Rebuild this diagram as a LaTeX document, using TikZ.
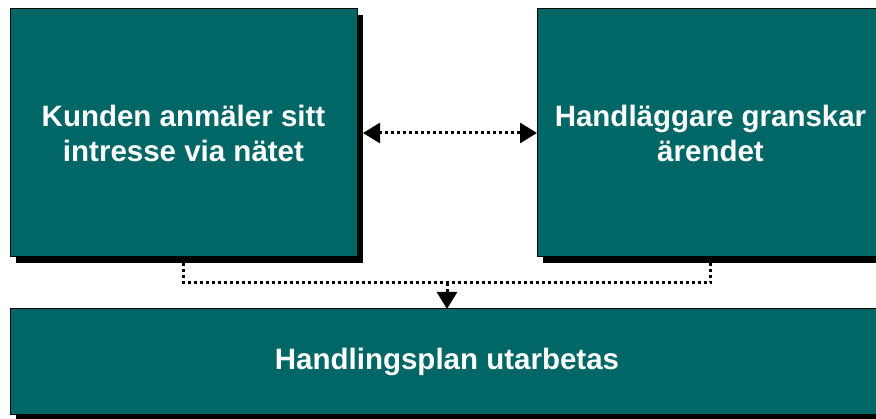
\documentclass[tikz,border=0pt]{standalone}
\usepackage{fontspec}
\setmainfont{Liberation Sans}
\usetikzlibrary{arrows.meta,shadows}
\definecolor{boxteal}{HTML}{006666}
\begin{document}
\begin{tikzpicture}[x=1pt,y=-1pt,
  stepbox/.style={draw=black, line width=1pt, fill=boxteal, text=white,
    font=\bfseries\fontsize{29.5}{35}\selectfont, align=center,
    inner sep=0pt, outer sep=0pt,
    drop shadow={shadow xshift=6pt, shadow yshift=-6pt, fill=black, opacity=1}},
  dotline/.style={line width=3pt, dash pattern=on 3pt off 3pt, black},
  tri/.tip={Triangle[length=17pt,width=20pt]}]
  \useasboundingbox (0,0) rectangle (876,419);
  \clip (0,0) rectangle (876,419);
  % the three process boxes
  \node[stepbox, minimum width=347pt, minimum height=248pt] (L) at (183.5,133)
    {Kunden anmäler sitt\\intresse via nätet};
  \node[stepbox, minimum width=347pt, minimum height=248pt] (R) at (710.5,133)
    {Handläggare granskar\\ärendet};
  \node[stepbox, minimum width=874pt, minimum height=106pt] (B) at (447,362)
    {Handlingsplan utarbetas};
  % two-way link between the upper boxes
  \draw[dotline, tri-tri] ([xshift=6pt]L.east) -- (R.west);
  % both upper boxes feed the plan
  \draw[dotline] ([yshift=-6pt]L.south) -- ++(0,20) coordinate (jl)
    -| ([yshift=-6pt]R.south);
  \draw[dotline, -tri] (jl -| B.north) -- (B.north);
\end{tikzpicture}
\end{document}
